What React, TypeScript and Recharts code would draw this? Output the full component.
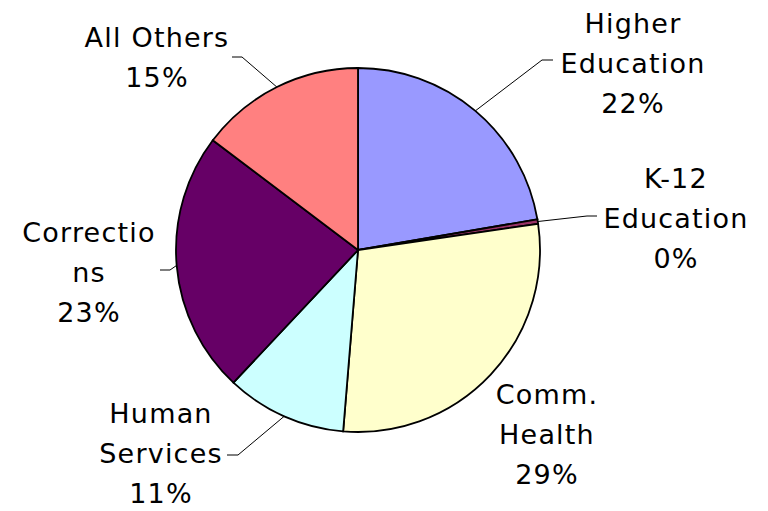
import React from "react";
import { PieChart, Pie, Cell } from "recharts";

const categories = [
  "Higher Education",
  "K-12 Education",
  "Comm. Health",
  "Human Services",
  "Corrections",
  "All Others",
];
const values = [22.3, 0.4, 28.6, 10.7, 23.3, 14.7];
const labelLines = [
  ["Higher", "Education"],
  ["K-12", "Education"],
  ["Comm.", "Health"],
  ["Human", "Services"],
  ["Correctio", "ns"],
  ["All Others"],
];
const colors = ["#9999FF", "#993366", "#FFFFCC", "#CCFFFF", "#660066", "#FF8080"];

// label layout offsets relative to the pie centre (layout, not data)
const LABEL_POS: [number, number][] = [
  [275, -187],
  [318, -32],
  [189, 184],
  [-197, 203],
  [-269, 22],
  [-201, -193],
];
const LEADER: ([number, number, number, number] | null)[] = [
  [184, -190, 195, -190],
  [229, -34, 239, -34],
  null,
  [-120, 205, -131, 205],
  [-188, 20, -198, 20],
  [-116, -193, -126, -193],
];

const data = categories.map((name, i) => ({ name, value: values[i] }));

const RADIAN = Math.PI / 180;
const FONT = "'DejaVu Sans', Verdana, sans-serif";
const FONT_SIZE = 27;
const LINE_H = 40;

const renderLabel = (props: any) => {
  const { cx, cy, index, percent } = props;
  const [ox, oy] = LABEL_POS[index];
  const lines = [...labelLines[index], `${Math.round(percent * 100)}%`];
  const n = lines.length;
  const x = cx + ox;
  const y = cy + oy;
  return (
    <text
      key={`lbl-${index}`}
      x={x}
      y={y}
      textAnchor="middle"
      fontFamily={FONT}
      fontSize={FONT_SIZE}
      letterSpacing={1.2}
      fill="#000"
    >
      {lines.map((t, i) => (
        <tspan key={i} x={x} y={y + (i - (n - 1) / 2) * LINE_H + 10}>
          {t}
        </tspan>
      ))}
    </text>
  );
};

const renderLine = (props: any) => {
  const { cx, cy, midAngle, outerRadius, index } = props;
  const l = LEADER[index];
  if (!l) return <g key={`ll-${index}`} />;
  const sx = cx + outerRadius * Math.cos(-midAngle * RADIAN);
  const sy = cy + outerRadius * Math.sin(-midAngle * RADIAN);
  const d = `M${sx},${sy}L${cx + l[0]},${cy + l[1]}L${cx + l[2]},${cy + l[3]}`;
  return <path key={`ll-${index}`} d={d} stroke="#000" strokeWidth={1} fill="none" />;
};

export default function App() {
  return (
    <div style={{ position: "absolute", left: 0, top: 0, width: 768, height: 511, background: "#fff" }}>
      <PieChart width={768} height={511} margin={{ top: 0, right: 0, bottom: 0, left: 0 }}>
        <Pie
          data={data}
          dataKey="value"
          nameKey="name"
          cx={358}
          cy={250}
          outerRadius={182}
          startAngle={90}
          endAngle={-270}
          stroke="#000"
          strokeWidth={1.8}
          label={renderLabel}
          labelLine={renderLine}
          isAnimationActive={false}
        >
          {data.map((d, i) => (
            <Cell key={d.name} fill={colors[i]} />
          ))}
        </Pie>
      </PieChart>
    </div>
  );
}
